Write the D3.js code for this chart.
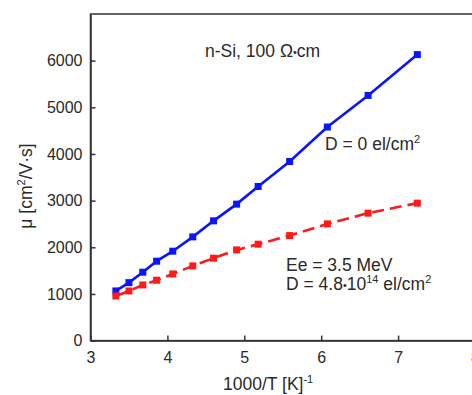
<!DOCTYPE html>
<html>
<head>
<meta charset="utf-8">
<script src="https://cdn.jsdelivr.net/npm/d3@7"></script>
<style>
  html, body { margin: 0; padding: 0; background: #fff; }
  svg { display: block; }
  text { font-family: Arial, "Liberation Sans", Helvetica, sans-serif; fill: #2a2a2a; }
</style>
</head>
<body>
<svg id="chart" width="472" height="395"></svg>
<script>
// ---- data ----
const invT = [3.33, 3.50, 3.68, 3.86, 4.07, 4.33, 4.60, 4.90, 5.18, 5.59, 6.08, 6.61, 7.25];
const muUnirradiated = [1064, 1242, 1466, 1702, 1916, 2223, 2567, 2925, 3303, 3839, 4577, 5255, 6130];
const muIrradiated = [957, 1064, 1193, 1294, 1429, 1601, 1766, 1944, 2066, 2251, 2502, 2732, 2946];
const xTicks = [3, 4, 5, 6, 7, 8];
const yTicks = [0, 1000, 2000, 3000, 4000, 5000, 6000];

(function () {
const svg = d3.select("#chart");
const pl = 90.5, pr = 475, pt = 14, pb = 340.6;
const x = d3.scaleLinear().domain([3, 8]).range([pl, pr]);
const y = d3.scaleLinear().domain([0, 7000]).range([pb, pt]);
const axisColor = "#333";

// frame
svg.append("rect")
  .attr("x", pl).attr("y", pt)
  .attr("width", pr - pl).attr("height", pb - pt)
  .attr("fill", "none").attr("stroke", axisColor).attr("stroke-width", 1.5);

// axes
const xAxis = svg.append("g").attr("transform", `translate(0,${pb})`)
  .call(d3.axisBottom(x).tickValues(xTicks).tickFormat(d3.format("d")).tickSizeInner(-5).tickSizeOuter(0).tickPadding(11));
const yAxis = svg.append("g").attr("transform", `translate(${pl},0)`)
  .call(d3.axisLeft(y).tickValues(yTicks).tickFormat(d3.format("d")).tickSizeInner(-5).tickSizeOuter(0).tickPadding(8));
[xAxis, yAxis].forEach(g => {
  g.select(".domain").attr("stroke", axisColor).attr("stroke-width", 1.5);
  g.selectAll(".tick line").attr("stroke", axisColor).attr("stroke-width", 1.5);
  g.selectAll(".tick text").attr("font-size", 16).attr("fill", "#2a2a2a")
    .style("font-family", "Arial, 'Liberation Sans', sans-serif");
});

// series
const line = d3.line().x((d, i) => x(invT[i])).y(d => y(d));
svg.append("path").datum(muUnirradiated)
  .attr("d", line).attr("fill", "none").attr("stroke", "#0a14ff").attr("stroke-width", 2.6);
svg.append("path").datum(muIrradiated)
  .attr("d", line).attr("fill", "none").attr("stroke", "#ff1a1a").attr("stroke-width", 2.6)
  .attr("stroke-dasharray", "12,6");

const ms = 7;
svg.append("g").selectAll("rect").data(muUnirradiated).join("rect")
  .attr("x", (d, i) => x(invT[i]) - ms / 2).attr("y", d => y(d) - ms / 2)
  .attr("width", ms).attr("height", ms).attr("fill", "#0a14ff");
svg.append("g").selectAll("rect").data(muIrradiated).join("rect")
  .attr("x", (d, i) => x(invT[i]) - ms / 2).attr("y", d => y(d) - ms / 2)
  .attr("width", ms).attr("height", ms).attr("fill", "#ff1a1a");

// annotations
const fs = 17.5, sup = 11;
const t0 = svg.append("text").attr("x", 205).attr("y", 57).attr("font-size", fs);
t0.append("tspan").text("n-Si, 100 Ω");
t0.append("tspan").attr("font-size", 11).attr("dy", -1).text("•");
t0.append("tspan").attr("dy", 1).text("cm");

const t1 = svg.append("text").attr("x", 325).attr("y", 150).attr("font-size", fs);
t1.append("tspan").text("D = 0 el/cm");
t1.append("tspan").attr("font-size", sup).attr("dy", -7).text("2");

svg.append("text").attr("x", 286).attr("y", 271).attr("font-size", fs).text("Ee = 3.5 MeV");
const t2 = svg.append("text").attr("x", 286).attr("y", 290).attr("font-size", fs);
t2.append("tspan").text("D = 4.8");
t2.append("tspan").attr("font-size", 11).attr("dy", -1).text("•");
t2.append("tspan").attr("dy", 1).text("10");
t2.append("tspan").attr("font-size", sup).attr("dy", -7).text("14");
t2.append("tspan").attr("dy", 7).text(" el/cm");
t2.append("tspan").attr("font-size", sup).attr("dy", -7).text("2");

// axis titles
const xt = svg.append("text").attr("x", 223).attr("y", 390).attr("font-size", fs);
xt.append("tspan").text("1000/T [K]");
xt.append("tspan").attr("font-size", sup).attr("dy", -7).text("-1");

const yt = svg.append("text").attr("transform", "translate(32,186) rotate(-90)")
  .attr("text-anchor", "middle").attr("font-size", fs);
yt.append("tspan").text("μ [cm");
yt.append("tspan").attr("font-size", sup).attr("dy", -7).text("2");
yt.append("tspan").attr("dy", 7).text("/V·s]");
})();
</script>
</body>
</html>
